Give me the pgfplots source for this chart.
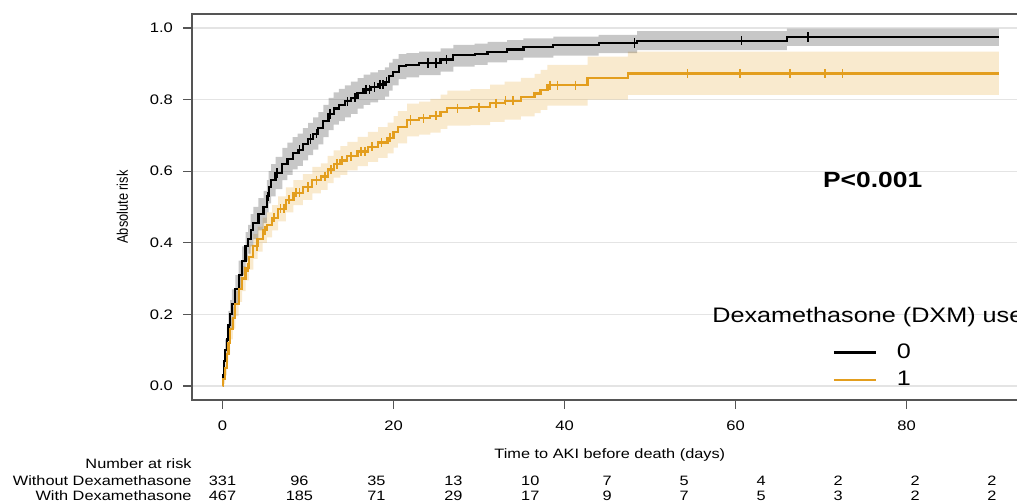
\documentclass[border=0pt]{standalone}
\usepackage{fontspec}
\setmainfont{Liberation Sans}[FakeStretch=1.2]
\newfontfamily\plainsans{Liberation Sans}
\usepackage{pgfplots}
\pgfplotsset{compat=1.18}
\usepackage{pgfplotstable}
\usepgfplotslibrary{fillbetween}

\definecolor{dxmorange}{HTML}{E39E1E}
\definecolor{axgray}{HTML}{555555}
\definecolor{gridgray}{HTML}{E4E4E4}
\tikzset{risk/.style={font=\fontsize{6.8}{8}\selectfont, text=black}}

% cumulative incidence, group 0 (without DXM): time, estimate, lower, upper
\pgfplotstableread{
t r lo hi
0 0 0 0
0.1 0.03 0.01 0.05
0.2 0.07 0.04 0.10
0.3 0.10 0.07 0.13
0.5 0.13 0.10 0.165
0.7 0.17 0.13 0.21
0.9 0.20 0.16 0.24
1.1 0.23 0.19 0.27
1.5 0.27 0.23 0.31
1.9 0.31 0.27 0.35
2.3 0.35 0.31 0.39
2.7 0.39 0.35 0.43
3.0 0.41 0.37 0.45
3.3 0.435 0.39 0.48
3.6 0.455 0.41 0.50
4.2 0.48 0.435 0.525
4.8 0.50 0.455 0.545
5.2 0.53 0.485 0.575
5.4 0.555 0.51 0.60
5.7 0.575 0.53 0.62
6.2 0.595 0.55 0.64
7.0 0.62 0.575 0.665
7.6 0.635 0.59 0.68
8.2 0.65 0.605 0.695
8.8 0.66 0.615 0.705
9.4 0.675 0.63 0.72
10.0 0.69 0.645 0.735
10.6 0.705 0.66 0.75
11.2 0.72 0.675 0.765
11.8 0.74 0.695 0.785
12.4 0.76 0.715 0.805
13.0 0.775 0.73 0.82
13.6 0.785 0.74 0.83
14.3 0.795 0.75 0.84
15.0 0.805 0.76 0.85
15.8 0.818 0.775 0.86
16.5 0.828 0.785 0.87
17.3 0.835 0.792 0.876
18.2 0.842 0.80 0.882
19.0 0.85 0.808 0.89
19.5 0.865 0.825 0.903
19.9 0.878 0.84 0.914
20.6 0.893 0.857 0.927
21.5 0.897 0.862 0.93
23.0 0.902 0.868 0.934
25.5 0.912 0.878 0.943
27.0 0.924 0.892 0.953
29.5 0.928 0.897 0.956
31.0 0.934 0.904 0.961
33.3 0.940 0.91 0.966
35.2 0.946 0.917 0.971
38.7 0.952 0.923 0.976
44.0 0.958 0.93 0.981
48.5 0.964 0.938 0.991
66.0 0.975 0.95 0.998
90.8 0.975 0.95 0.998
}\nodxm

% group 1 (with DXM)
\pgfplotstableread{
t r lo hi
0 0 0 0
0.1 0.02 0.005 0.035
0.3 0.05 0.03 0.07
0.5 0.09 0.065 0.115
0.7 0.12 0.09 0.15
0.9 0.16 0.13 0.19
1.2 0.19 0.16 0.22
1.5 0.23 0.195 0.265
1.9 0.27 0.235 0.305
2.3 0.30 0.265 0.335
2.7 0.33 0.295 0.365
3.1 0.36 0.325 0.395
3.6 0.39 0.355 0.425
4.1 0.41 0.375 0.445
4.7 0.435 0.40 0.47
5.2 0.45 0.415 0.485
5.8 0.47 0.435 0.505
6.5 0.495 0.46 0.53
7.4 0.52 0.485 0.555
8.3 0.54 0.505 0.575
9.4 0.556 0.52 0.592
10.5 0.575 0.538 0.612
11.5 0.585 0.548 0.622
12.3 0.605 0.567 0.643
13.0 0.62 0.582 0.658
13.8 0.63 0.59 0.67
14.6 0.642 0.602 0.682
15.8 0.655 0.614 0.696
17.0 0.668 0.626 0.71
18.2 0.68 0.637 0.723
19.3 0.693 0.65 0.736
20.0 0.71 0.666 0.754
20.5 0.723 0.678 0.768
21.6 0.743 0.697 0.789
23.0 0.748 0.702 0.794
24.3 0.755 0.708 0.802
25.5 0.766 0.718 0.814
26.3 0.776 0.727 0.825
29.0 0.779 0.729 0.829
31.3 0.79 0.738 0.842
33.0 0.797 0.744 0.85
34.9 0.807 0.753 0.861
36.5 0.817 0.762 0.872
37.2 0.827 0.771 0.883
38.0 0.84 0.783 0.897
42.7 0.86 0.80 0.92
47.4 0.873 0.813 0.934
90.8 0.873 0.813 0.934
}\withdxm

\begin{document}
\begin{tikzpicture}
\begin{axis}[
    at={(96pt,51.5pt)}, anchor=south west,
    scale only axis, width=421pt, height=193pt,
    xmin=-3.567, xmax=94.91, ymin=-0.0391, ymax=1.0391,
    clip=false,
    xtick={0,20,40,60,80},
    ytick={0,0.2,0.4,0.6,0.8,1},
    /pgf/number format/assume math mode=true,
    ticklabel style={font=\fontsize{6.9}{8}\selectfont, text=black},
    xticklabel style={yshift=-2.5pt},
    yticklabel style={xshift=-1.5pt, /pgf/number format/fixed,
        /pgf/number format/fixed zerofill, /pgf/number format/precision=1},
    tick align=outside, xtick pos=bottom, ytick pos=left,
    major tick length=4.5pt,
    tick style={axgray, line width=0.6pt},
    axis line style={axgray, line width=0.7pt},
    ymajorgrids, grid style={gridgray, line width=0.6pt},
    legend style={draw=none, fill=none, inner sep=0pt,
        at={(axis description cs:0.7605,0.152)}, anchor=north west,
        font=\fontsize{10.5}{12}\selectfont, row sep=3pt,
        nodes={inner sep=1pt},
        /tikz/every odd column/.append style={column sep=9pt}},
    legend cell align=left,
    legend image code/.code={\draw[#1, line width=1.1pt] (0pt,0pt) -- (21pt,0pt);},
]
% confidence bands
\addplot[const plot, draw=none, name path=whi, forget plot] table[x=t, y=hi]{\withdxm};
\addplot[const plot, draw=none, name path=wlo, forget plot] table[x=t, y=lo]{\withdxm};
\addplot[fill=dxmorange, fill opacity=0.22, draw=none, forget plot] fill between[of=whi and wlo];
\addplot[const plot, draw=none, name path=nhi, forget plot] table[x=t, y=hi]{\nodxm};
\addplot[const plot, draw=none, name path=nlo, forget plot] table[x=t, y=lo]{\nodxm};
\addplot[fill=black, fill opacity=0.22, draw=none, forget plot] fill between[of=nhi and nlo];

% curves
\addplot[const plot, black, line width=1.1pt] table[x=t, y=r]{\nodxm};
\addlegendentry{0}
\addplot[const plot, dxmorange, line width=1.1pt] table[x=t, y=r]{\withdxm};
\addlegendentry{1}

% censoring marks
\addplot[only marks, mark=|, mark size=2.3pt, black, line width=0.8pt, forget plot] coordinates {
(5.3,0.53) (6.4,0.595) (9.0,0.66) (10.3,0.69) (11.0,0.705) (12.6,0.76)
(14.6,0.795) (15.5,0.805) (16.8,0.828) (17.2,0.828) (17.8,0.835) (18.4,0.842)
(18.8,0.842) (19.2,0.85) (24.0,0.902) (25.0,0.902) (26.2,0.912)
(48.2,0.958) (60.7,0.964) (68.5,0.975)
};
\addplot[only marks, mark=|, mark size=2.3pt, dxmorange, line width=0.8pt, forget plot] coordinates {
(3.0,0.33) (4.0,0.39) (5.0,0.435) (6.0,0.47) (6.8,0.495) (7.2,0.495)
(7.8,0.52) (8.6,0.54) (9.0,0.54) (10.0,0.556) (11.0,0.575) (12.0,0.585)
(12.7,0.605) (13.4,0.62) (14.0,0.63) (15.0,0.642) (16.2,0.655) (16.7,0.655)
(17.5,0.668) (18.6,0.68) (19.6,0.693) (22.0,0.743) (23.5,0.748) (25.0,0.755)
(27.5,0.776) (30.0,0.779) (32.0,0.79) (33.1,0.797) (34.0,0.797)
(38.3,0.84) (39.2,0.84) (41.3,0.84)
(54.4,0.873) (60.5,0.873) (66.4,0.873) (70.5,0.873) (72.5,0.873)
};

% annotations
\node[anchor=west, inner sep=0pt, font=\fontsize{11}{13}\selectfont\bfseries] at (axis cs:70.2,0.575) {P<0.001};
\node[anchor=west, inner sep=0pt, font=\fontsize{10.5}{12}\selectfont] at (axis cs:57.25,0.1936) {Dexamethasone (DXM) use};
\node[rotate=90, font=\fontsize{6.4}{8}\plainsans] at (axis cs:-11.7,0.50) {\scalebox{1}[1.2]{Absolute risk}};
\node[risk] at (axis cs:45.3,-0.193) {Time to AKI before death (days)};

% number at risk table
\node[risk, anchor=east, inner sep=0pt] at (axis cs:-3.567,-0.2179) {Number at risk};
\node[risk, anchor=east, inner sep=0pt] at (axis cs:-3.567,-0.2645) {Without Dexamethasone};
\node[risk, anchor=east, inner sep=0pt] at (axis cs:-3.567,-0.3073) {With Dexamethasone};
\node[risk] at (axis cs:0,-0.2645) {331};  \node[risk] at (axis cs:0,-0.3073) {467};
\node[risk] at (axis cs:9,-0.2645) {96};   \node[risk] at (axis cs:9,-0.3073) {185};
\node[risk] at (axis cs:18,-0.2645) {35};  \node[risk] at (axis cs:18,-0.3073) {71};
\node[risk] at (axis cs:27,-0.2645) {13};  \node[risk] at (axis cs:27,-0.3073) {29};
\node[risk] at (axis cs:36,-0.2645) {10};  \node[risk] at (axis cs:36,-0.3073) {17};
\node[risk] at (axis cs:45,-0.2645) {7};   \node[risk] at (axis cs:45,-0.3073) {9};
\node[risk] at (axis cs:54,-0.2645) {5};   \node[risk] at (axis cs:54,-0.3073) {7};
\node[risk] at (axis cs:63,-0.2645) {4};   \node[risk] at (axis cs:63,-0.3073) {5};
\node[risk] at (axis cs:72,-0.2645) {2};   \node[risk] at (axis cs:72,-0.3073) {3};
\node[risk] at (axis cs:81,-0.2645) {2};   \node[risk] at (axis cs:81,-0.3073) {2};
\node[risk] at (axis cs:90,-0.2645) {2};   \node[risk] at (axis cs:90,-0.3073) {2};
\end{axis}
\pgfresetboundingbox
\path[use as bounding box] (0,0) rectangle (508.5pt,251.5pt);
\end{tikzpicture}
\end{document}
